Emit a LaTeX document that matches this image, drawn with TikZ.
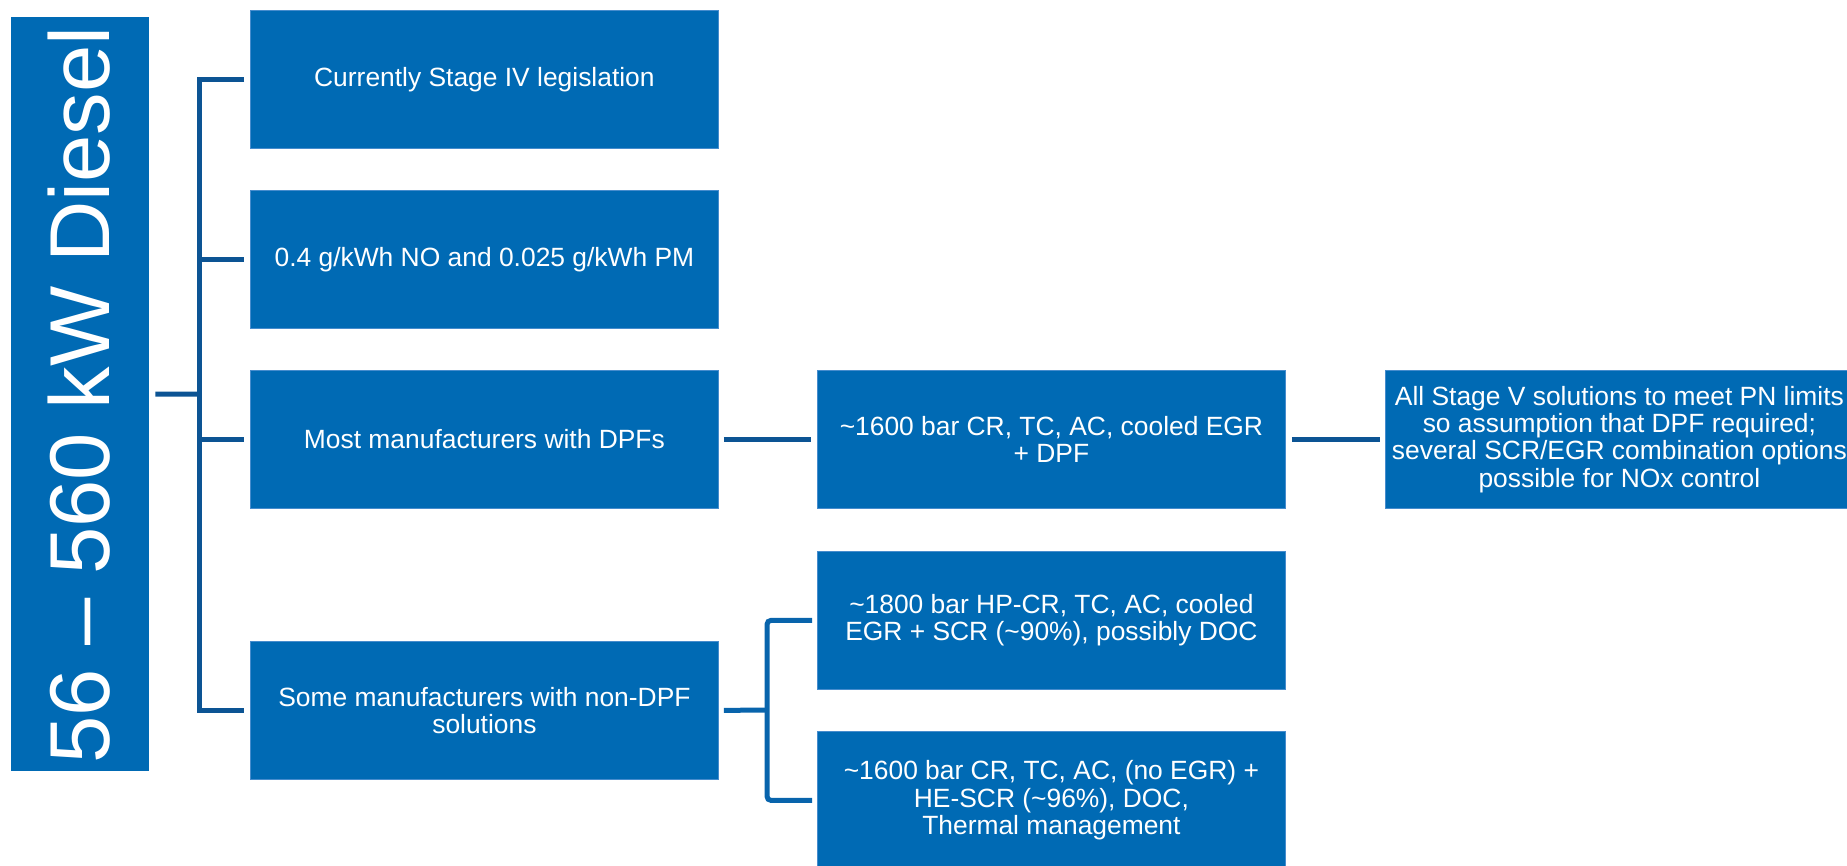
\documentclass[tikz,border=0pt]{standalone}
\usepackage{fontspec}
\setmainfont{Liberation Sans}
\definecolor{boxblue}{RGB}{0,106,180}
\definecolor{boxedge}{RGB}{70,140,205}
\definecolor{darkline}{RGB}{12,84,148}
\definecolor{midline}{RGB}{8,100,172}
\begin{document}
\begin{tikzpicture}[x=1pt,y=-1pt,
  card/.style={rectangle, fill=boxblue, draw=boxedge, line width=0.8pt,
    minimum width=468pt, minimum height=138pt, inner sep=0pt,
    anchor=north west, text=white, align=center,
    font=\fontsize{26.4}{27.4}\selectfont},
  trunk/.style={draw=darkline, line width=5pt},
  branch/.style={draw=midline, line width=5pt, rounded corners=4pt}]
\useasboundingbox (0,0) rectangle (1847,866);
\clip (0,0) rectangle (1847,866);

% vertical title bar
\node[rectangle, fill=boxblue, minimum width=138pt, minimum height=754pt,
      inner sep=0pt, anchor=north west] (title) at (11,17) {};
\node[rotate=90, text=white, font=\fontsize{85}{85}\selectfont] (titletext)
      at ([xshift=-1pt,yshift=-1pt]title.center) {56 – 560 kW Diesel};

% first column
\node[card] (b1) at (250,10)  {Currently Stage IV legislation};
\node[card] (b2) at (250,190) {0.4 g/kWh NO and 0.025 g/kWh PM};
\node[card] (b3) at (250,370) {Most manufacturers with DPFs};
\node[card] (b4) at (250,641) {Some manufacturers with non-DPF\\solutions};

% second column
\node[card] (b5) at (817,370) {\textasciitilde1600 bar CR, TC, AC, cooled EGR\\+ DPF};
\node[card] (b7) at (817,551) {\textasciitilde1800 bar HP-CR, TC, AC, cooled\\EGR + SCR (\textasciitilde90\%), possibly DOC};
\node[card] (b8) at (817,731) {\textasciitilde1600 bar CR, TC, AC, (no EGR) +\\HE-SCR (\textasciitilde96\%), DOC,\\Thermal management};

% third column
\node[card] (b6) at (1385,370) {All Stage V solutions to meet PN limits\\so assumption that DPF required;\\several SCR/EGR combination options\\possible for NOx control};

% bracket joining the title to the first column
\coordinate (bus) at (199.5,394);
\draw[trunk] ([xshift=-6pt]b1.west) -- (bus |- b1.west) -- (bus |- b4.west) -- ([xshift=-6pt]b4.west);
\draw[trunk] ([xshift=6pt]title.east) -- (bus);
\draw[trunk] (bus |- b2.west) -- ([xshift=-6pt]b2.west);
\draw[trunk] (bus |- b3.west) -- ([xshift=-6pt]b3.west);

% chain of the DPF route
\draw[trunk] ([xshift=5pt]b3.east) -- ([xshift=-6pt]b5.west);
\draw[trunk] ([xshift=6pt]b5.east) -- ([xshift=-5pt]b6.west);

% bracket of the non-DPF route
\coordinate (fork) at (767,710);
\draw[branch] ([xshift=5pt]b4.east) -- (fork);
\draw[branch] ([xshift=-5pt]b7.west) -| (fork) |- ([xshift=-5pt]b8.west);
\end{tikzpicture}
\end{document}
